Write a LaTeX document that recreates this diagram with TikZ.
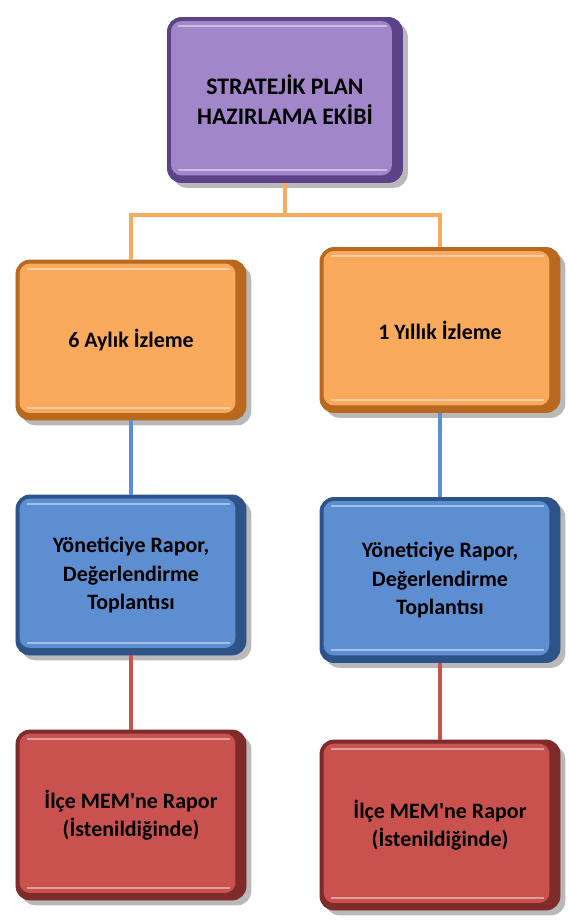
\documentclass[tikz,border=0pt]{standalone}
\usepackage{fontspec}
\setmainfont{Carlito}[Ligatures=TeXOff]
\usetikzlibrary{shadows}
\definecolor{morAna}{HTML}{A286CA}
\definecolor{morKoyu}{HTML}{5E4287}
\definecolor{turAna}{HTML}{F9AA5C}
\definecolor{turKoyu}{HTML}{B8691F}
\definecolor{maviAna}{HTML}{5D8ED1}
\definecolor{maviKoyu}{HTML}{2D5488}
\definecolor{kirAna}{HTML}{C9524F}
\definecolor{kirKoyu}{HTML}{7E2B29}
\tikzset{
  kutu/.style 2 args={rounded corners=8pt, fill=#2, draw=#2, line width=0.5pt,
    minimum width=4.6cm, minimum height=3.2cm, align=center, text=black,
    font=\bfseries\fontsize{12.5}{16}\selectfont,
    drop shadow={shadow xshift=3pt, shadow yshift=-3pt, opacity=0.55},
    path picture={
      \fill[#1, rounded corners=6pt]
        ([shift={(2pt,4pt)}]path picture bounding box.south west) rectangle
        ([shift={(-6pt,-2pt)}]path picture bounding box.north east);
      \draw[white, opacity=0.45, line width=1.2pt]
        ([shift={(6pt,-5pt)}]path picture bounding box.north west) --
        ([shift={(-9pt,-5pt)}]path picture bounding box.north east);
      \draw[white, opacity=0.45, line width=1.2pt]
        ([shift={(6pt,7pt)}]path picture bounding box.south west) --
        ([shift={(-9pt,7pt)}]path picture bounding box.south east);
    }},
  genis/.style={minimum width=4.8cm, minimum height=3.3cm},
  hat/.style={draw=#1, line width=2.2pt},
}
\begin{document}
\begin{tikzpicture}
  \useasboundingbox (0,0) rectangle (11.38,-18.42);
  % kutular
  \node[kutu={morAna}{morKoyu}, minimum width=4.7cm, minimum height=3.3cm,
    font=\bfseries\fontsize{13.5}{17}\selectfont]
    (ekip) at (5.7,-2.0) {STRATEJİK PLAN\\HAZIRLAMA EKİBİ};
  \node[kutu={turAna}{turKoyu}] (alti) at (2.62,-6.8) {6 Aylık İzleme};
  \node[kutu={turAna}{turKoyu}, genis] (yil) at (8.8,-6.6) {1 Yıllık İzleme};
  \node[kutu={maviAna}{maviKoyu}] (rapL) at (2.62,-11.5)
    {Yöneticiye Rapor,\\Değerlendirme\\Toplantısı};
  \node[kutu={maviAna}{maviKoyu}, genis] (rapR) at (8.8,-11.6)
    {Yöneticiye Rapor,\\Değerlendirme\\Toplantısı};
  \node[kutu={kirAna}{kirKoyu}, minimum height=3.4cm] (memL) at (2.62,-16.3)
    {İlçe MEM'ne Rapor\\(İstenildiğinde)};
  \node[kutu={kirAna}{kirKoyu}, genis, minimum height=3.4cm] (memR) at (8.8,-16.5)
    {İlçe MEM'ne Rapor\\(İstenildiğinde)};
  % baglantilar
  \coordinate (dal) at (ekip.south |- 0,-4.3);
  \draw[hat=turAna] (ekip.south) -- (dal) -| (alti.north);
  \draw[hat=turAna] (dal) -| (yil.north);
  \draw[hat=maviAna] (alti.south) -- (rapL.north);
  \draw[hat=maviAna] (yil.south) -- (yil.south |- rapR.north);
  \draw[hat=kirAna] (rapL.south) -- (memL.north);
  \draw[hat=kirAna] (rapR.south) -- (memR.north);
\end{tikzpicture}
\end{document}
